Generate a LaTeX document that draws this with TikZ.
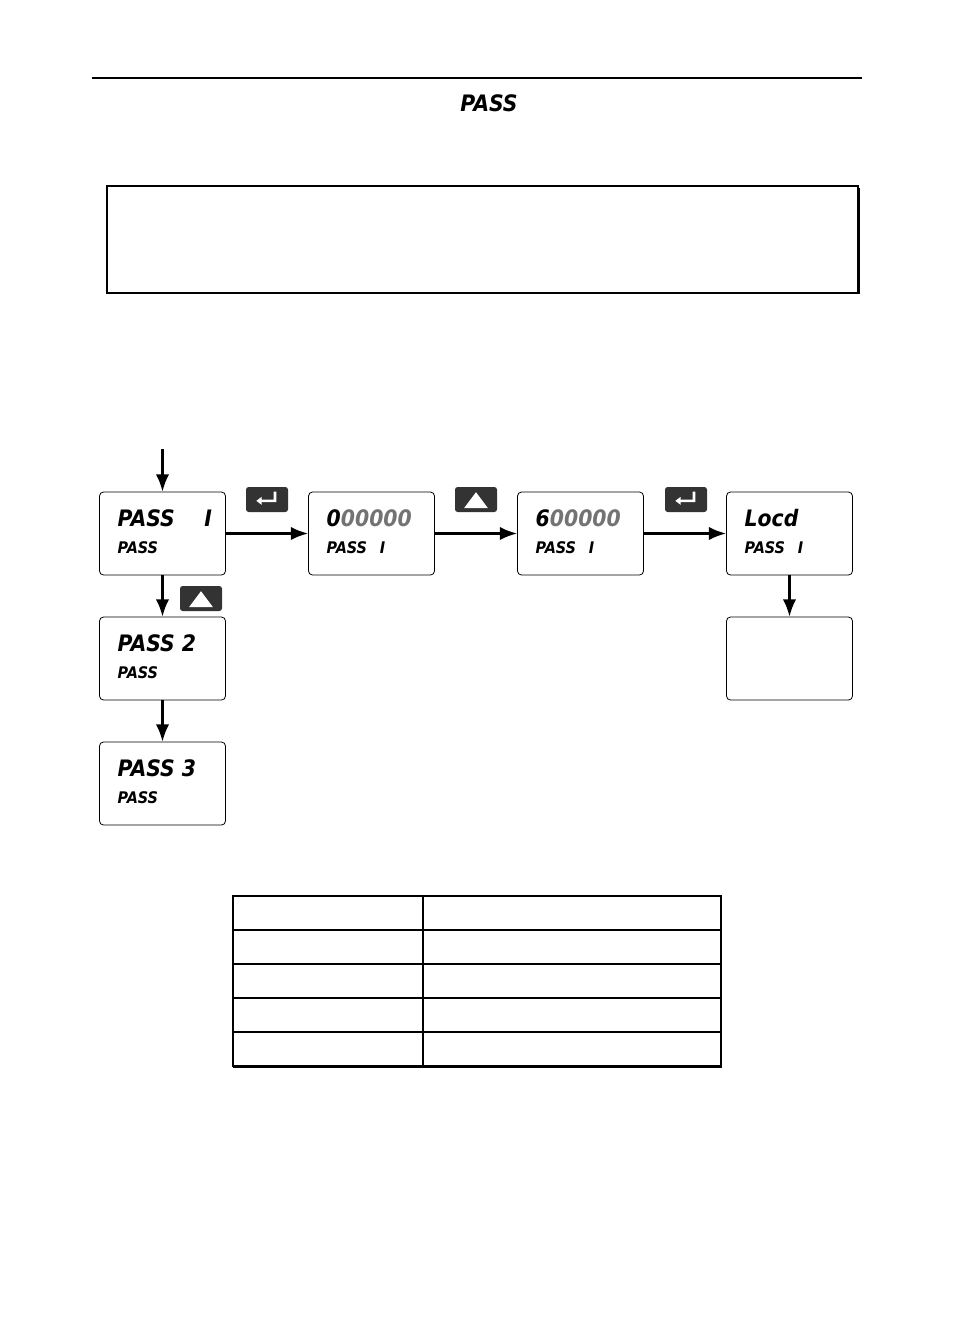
\documentclass[tikz,border=0pt]{standalone}
\usepackage{fontspec}
\usetikzlibrary{arrows.meta}
\newfontfamily\lcd{DejaVu Sans Condensed}
\begin{document}
\begin{tikzpicture}[x=0.75pt,y=-0.75pt,
  disp/.style={draw,rounded corners=3pt,minimum width=94.5pt,minimum height=62.25pt,inner sep=0pt,line width=0.6pt},
  big/.style={font=\lcd\bfseries\itshape\fontsize{17}{17}\selectfont,anchor=west},
  small/.style={font=\lcd\bfseries\itshape\fontsize{12}{12}\selectfont,anchor=west},
  btn/.style={fill=black!80,rounded corners=2pt,minimum width=31.5pt,minimum height=18.75pt,inner sep=0pt},
  arr/.style={draw,line width=1.6pt,-{Latex[length=13pt,width=10pt]}},
  tl/.style={line width=0.8pt}]
\useasboundingbox (0,0) rectangle (954,1336);
\draw[tl] (92,78) -- (862,78);
\node[font=\lcd\bfseries\itshape\fontsize{17}{17}\selectfont] (title) at (489,103) {PASS};
\draw[line width=0.8pt] (107,186) rectangle (858,293);
\draw[line width=1.2pt] (109,293) -- (859,293) -- (859,188);
% displays
\node[disp] (b1) at (162.5,533.5) {};
\node[disp] (b2) at (371.5,533.5) {};
\node[disp] (b3) at (580.5,533.5) {};
\node[disp] (b4) at (789.5,533.5) {};
\node[disp] (b5) at (162.5,658.5) {};
\node[disp] (b6) at (789.5,658.5) {};
\node[disp] (b7) at (162.5,783.5) {};
\node[big] (t1) at (113,518) {PASS\hspace{1.3em}I};
\node[small] (s1) at (113,548) {PASS};
\node[big] (t2) at (322,518) {0\textcolor{black!55}{00000}};
\node[small] (s2) at (322,548) {PASS\hspace{0.8em}I};
\node[big] (t3) at (531,518) {6\textcolor{black!55}{00000}};
\node[small] (s3) at (531,548) {PASS\hspace{0.8em}I};
\node[big] (t4) at (740,518) {Locd};
\node[small] (s4) at (740,548) {PASS\hspace{0.8em}I};
\node[big] (t5) at (113,643) {PASS 2};
\node[small] (s5) at (113,673) {PASS};
\node[big] (t7) at (113,768) {PASS 3};
\node[small] (s7) at (113,798) {PASS};
% connectors
\coordinate (in) at (162.5,449);
\path[arr] (in) -- (b1.north);
\path[arr] (b1.east) -- (b2.west);
\path[arr] (b2.east) -- (b3.west);
\path[arr] (b3.east) -- (b4.west);
\path[arr] (b1.south) -- (b5.north);
\path[arr] (b5.south) -- (b7.north);
\path[arr] (b4.south) -- (b6.north);
% buttons
\node[btn] (k1) at (267,499.5) {};
\node[btn] (k2) at (476,499.5) {};
\node[btn] (k3) at (686,499.5) {};
\node[btn] (k4) at (201,598.5) {};
\foreach \k in {k1,k3}{
  \fill[white] ([xshift=-8pt,yshift=-1pt]\k.center) -- ++(4pt,3pt) -- ++(0,-2pt) -- ++(9pt,0) -- ++(0,6pt) -- ++(2pt,0) -- ++(0,-8pt) -- ++(-11pt,0) -- ++(0,-2pt) -- cycle;}
\foreach \k in {k2,k4}{
  \fill[white] ([xshift=-9pt,yshift=-6.5pt]\k.center) -- ++(18pt,0) -- ++(-9pt,12pt) -- cycle;}
% table
\draw[tl] (233,896) rectangle (721,1066);
\draw[line width=1.2pt] (233,1067) -- (722,1067);
\draw[tl] (423,896) -- (423,1066);
\foreach \y in {930,964,998,1032} \draw[tl] (233,\y) -- (721,\y);
\end{tikzpicture}
\end{document}
